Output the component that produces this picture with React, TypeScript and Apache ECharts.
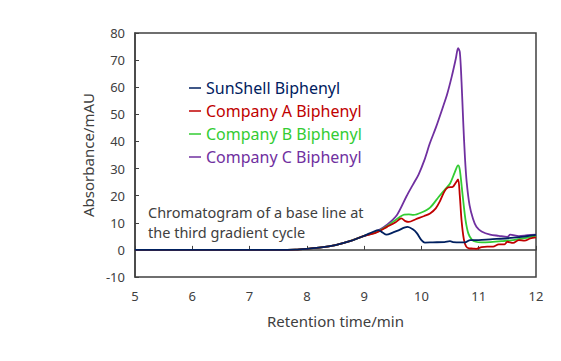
import React, { useEffect, useRef } from "react";
import * as echarts from "echarts";

const xTicks = [5, 6, 7, 8, 9, 10, 11, 12];
const yTicks = [-10, 0, 10, 20, 30, 40, 50, 60, 70, 80];

const seriesNames = ["SunShell Biphenyl", "Company A Biphenyl", "Company B Biphenyl", "Company C Biphenyl"];
const seriesColors = ["#002060", "#C00000", "#33CC33", "#7030A0"];

// shared baseline (retention time / absorbance) before the curves separate
const baseTime = [5, 6, 7, 7.5, 7.8, 8, 8.25, 8.5, 8.75, 9];
const baseValue = [0, 0, 0, 0, 0.1, 0.4, 0.9, 1.8, 3.2, 5.2];

const sunTime = [9.15, 9.25, 9.32, 9.39, 9.5, 9.6, 9.7, 9.76, 9.85, 9.92, 10.0, 10.06, 10.2, 10.4, 10.5, 10.55, 10.7, 10.78, 10.85, 11.0, 11.2, 11.5, 11.8, 12.0];
const sunValue = [6.6, 7.3, 6.4, 5.6, 6.4, 7.2, 8.2, 8.5, 7.6, 6.2, 3.6, 2.7, 2.8, 2.9, 3.2, 2.9, 2.8, 2.9, 3.6, 3.6, 3.9, 4.3, 4.9, 5.5];

const aTime = [9.2, 9.4, 9.55, 9.65, 9.72, 9.78, 9.9, 10.05, 10.15, 10.25, 10.32, 10.4, 10.46, 10.55, 10.6, 10.64, 10.67, 10.7, 10.74, 10.78, 10.83, 10.9, 10.96, 11.05, 11.15, 11.25, 11.35, 11.45, 11.5, 11.6, 11.7, 11.8, 11.9, 12.0];
const aValue = [6.3, 8.5, 10.2, 11.6, 10.6, 10.3, 11.3, 12.5, 13.4, 15.3, 17.8, 21.5, 23.0, 23.3, 24.8, 26.0, 20.0, 11.0, 4.0, 1.3, 0.6, 0.5, 0.4, 1.0, 1.2, 1.2, 2.0, 2.0, 3.0, 2.6, 3.6, 3.4, 4.2, 4.6];

const bTime = [9.2, 9.4, 9.55, 9.7, 9.78, 9.86, 10.0, 10.15, 10.3, 10.4, 10.5, 10.58, 10.64, 10.67, 10.72, 10.77, 10.82, 10.88, 10.95, 11.05, 11.2, 11.4, 11.6, 11.8, 12.0];
const bValue = [6.4, 8.8, 11.0, 13.0, 13.1, 12.9, 13.8, 15.6, 19.5, 22.0, 24.5, 28.5, 31.2, 29.5, 20.0, 11.0, 6.0, 3.8, 3.0, 2.8, 2.9, 3.2, 3.6, 4.3, 5.2];

const cTime = [9.1, 9.25, 9.4, 9.57, 9.74, 9.85, 9.95, 10.05, 10.15, 10.25, 10.38, 10.45, 10.53, 10.6, 10.64, 10.67, 10.7, 10.73, 10.76, 10.79, 10.84, 10.9, 10.96, 11.05, 11.2, 11.35, 11.5, 11.55, 11.7, 11.85, 12.0];
const cValue = [5.8, 7.2, 9.3, 12.8, 19.8, 24.0, 27.8, 33.0, 39.5, 45.0, 53.0, 57.5, 64.0, 70.5, 74.4, 73.0, 62.0, 47.0, 34.0, 25.0, 16.5, 11.5, 8.5, 6.8, 5.6, 5.2, 4.8, 5.6, 5.1, 5.4, 5.6];

const seriesTimes = [sunTime, aTime, bTime, cTime];
const seriesValues = [sunValue, aValue, bValue, cValue];

const annotationLines = ["Chromatogram of a base line at", "the third gradient cycle"];

const FONT = "'Noto Sans', 'Open Sans', sans-serif";

export default function App() {
  const ref = useRef<HTMLDivElement>(null);
  useEffect(() => {
    document.body.style.margin = "0";
    const chart = echarts.init(ref.current!, null, { renderer: "svg" });
    const series = seriesNames.map((name, i) => {
      const pts: number[][] = [];
      baseTime.forEach((t, k) => {
        if (t < seriesTimes[i][0]) pts.push([t, baseValue[k]]);
      });
      seriesTimes[i].forEach((t, k) => pts.push([t, seriesValues[i][k]]));
      return {
        name,
        type: "line",
        data: pts,
        showSymbol: false,
        smooth: 0.3,
        lineStyle: { color: seriesColors[i], width: 1.8 },
        itemStyle: { color: seriesColors[i] },
        z: i === 0 ? 5 : 4 - i,
      };
    });
    chart.setOption({
      animation: false,
      textStyle: { fontFamily: FONT },
      grid: {
        left: 135,
        top: 33,
        width: 401,
        height: 244,
        show: true,
        borderColor: "#404040",
        borderWidth: 1.5,
      },
      legend: {
        orient: "vertical",
        left: 184,
        top: 75,
        itemGap: 7,
        itemWidth: 12,
        itemHeight: 1.5,
        icon: "rect",
        data: seriesNames.map((n, i) => ({
          name: n,
          textStyle: { color: seriesColors[i], fontSize: 16, fontFamily: FONT },
        })),
        textStyle: { fontSize: 16, fontFamily: FONT },
        selectedMode: false,
      },
      xAxis: {
        type: "value",
        min: xTicks[0],
        max: xTicks[xTicks.length - 1],
        interval: 1,
        name: "Retention time/min",
        nameLocation: "middle",
        nameGap: 36,
        nameTextStyle: { color: "#404040", fontSize: 15, fontFamily: FONT },
        axisLine: { lineStyle: { color: "#404040", width: 1.5 } },
        axisTick: { inside: true, length: 4, lineStyle: { color: "#404040" } },
        axisLabel: { color: "#404040", fontSize: 13, margin: 12, fontFamily: FONT },
        splitLine: { show: false },
      },
      yAxis: {
        type: "value",
        min: yTicks[0],
        max: yTicks[yTicks.length - 1],
        interval: 10,
        name: "Absorbance/mAU",
        nameLocation: "middle",
        nameGap: 38,
        nameTextStyle: { color: "#404040", fontSize: 15, fontFamily: FONT },
        axisLine: { lineStyle: { color: "#404040", width: 1.5 } },
        axisTick: { inside: true, length: 4, lineStyle: { color: "#404040" } },
        axisLabel: { color: "#404040", fontSize: 13, margin: 10, fontFamily: FONT },
        splitLine: { show: false },
      },
      graphic: annotationLines.map((t, i) => ({
        type: "text",
        left: 148,
        top: 204 + i * 20,
        style: { text: t, fill: "#404040", fontSize: 14.5, fontFamily: FONT },
      })),
      series,
    });
    return () => chart.dispose();
  }, []);
  return <div ref={ref} style={{ width: 561, height: 361 }} />;
}
